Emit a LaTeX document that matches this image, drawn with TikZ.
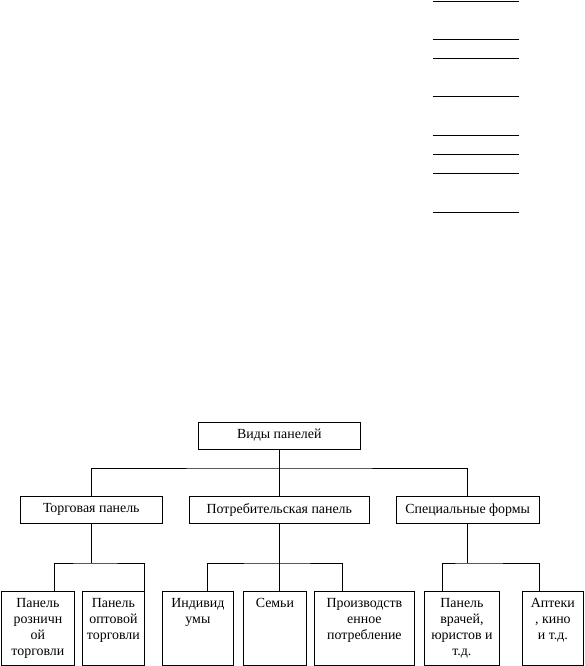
\documentclass[tikz,border=0pt]{standalone}
\usepackage{fontspec}
\setmainfont{Liberation Serif}
\tikzset{
  panel/.style={draw, line width=0.8pt, minimum height=27pt, inner sep=0pt, font=\fontsize{13.9}{16}\selectfont},
  leaf/.style={draw, line width=0.8pt, anchor=north west, inner sep=0pt, font=\fontsize{13.9}{16}\selectfont},
  link/.style={line width=0.8pt}
}
\newcommand{\leaftext}[2]{\parbox[c][74pt][t]{#1}{\centering\rule{0pt}{16pt}#2}}

\begin{document}
\begin{tikzpicture}[x=1pt,y=-1pt]
\useasboundingbox (0,0) rectangle (585,666);
\foreach \y in {1,39,58,96,135,154,173,212}
  \draw[link] (433,\y) -- (519,\y);

\node[panel, minimum width=162pt] (root) at (279.3,435.5) {Виды панелей};
\node[panel, minimum width=142.7pt] (trade) at (91.3,509.7) {Торговая панель};
\node[panel, minimum width=180pt] (cons) at (279.3,509.7) {Потребительская панель};
\node[panel, minimum width=142.7pt] (spec) at (467.7,509.7) {Специальные формы};

\node[leaf] (b1) at (1,591) {\leaftext{73pt}{Панель\\розничн\\ой\\торговли}};
\node[leaf] (b2) at (82,591) {\leaftext{62pt}{Панель\\оптовой\\торговли}};
\node[leaf] (b3) at (162,591) {\leaftext{71pt}{Индивид\\умы}};
\node[leaf] (b4) at (243,591) {\leaftext{63pt}{Семьи}};
\node[leaf] (b5) at (314,591) {\leaftext{100pt}{Производств\\енное\\потребление}};
\node[leaf] (b6) at (424,591) {\leaftext{75pt}{Панель\\врачей,\\юристов и\\т.д.}};
\node[leaf] (b7) at (522,591) {\leaftext{61pt}{Аптеки\\, кино\\и т.д.}};

% first level
\coordinate (topbus) at (279.3,468);
\draw[link] (root.south) -- (cons.north);
\draw[link] (trade.north) |- (topbus) -| (spec.north);

% second level
\coordinate (tbus) at (91.3,563);
\coordinate (cbus) at (279.3,563);
\coordinate (sbus) at (467.7,563);
\draw[link] (trade.south) -- (tbus);
\draw[link] ([xshift=53pt]b1.north west) |- (tbus) -| (b2.north east);
\draw[link] (cons.south) -- (cons.south |- b4.north);
\draw[link] ([xshift=45pt]b3.north west) |- (cbus) -| ([xshift=28pt]b5.north west);
\draw[link] (spec.south) -- (sbus);
\draw[link] ([xshift=18pt]b6.north west) |- (sbus) -| ([xshift=17pt]b7.north west);
\end{tikzpicture}
\end{document}
